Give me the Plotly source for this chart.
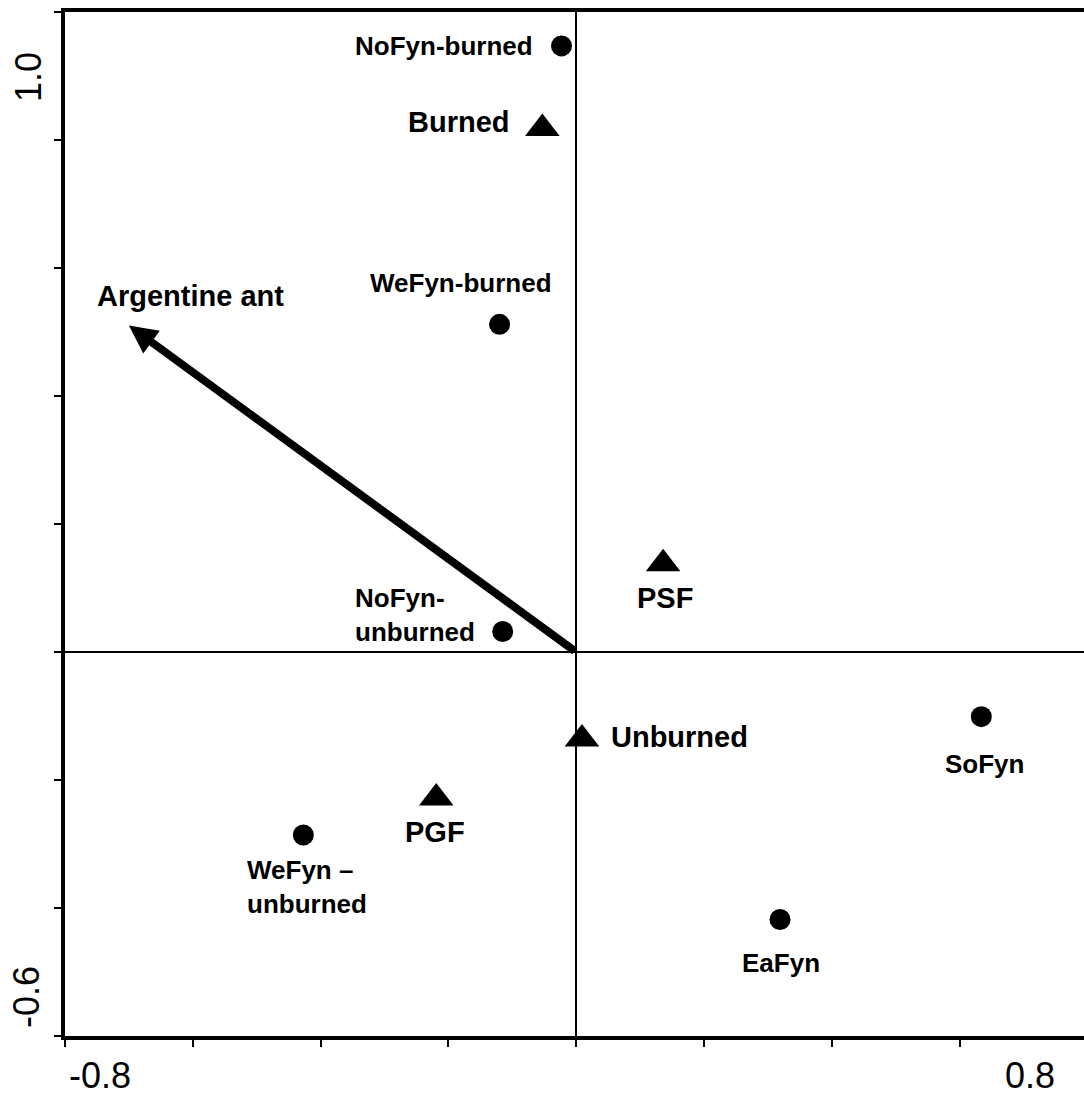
import plotly.graph_objects as go

# Site scores (circles)
site_labels = ["NoFyn-burned", "WeFyn-burned", "NoFyn-<br>unburned",
               "WeFyn –<br>unburned", "SoFyn", "EaFyn"]
site_x = [-0.023, -0.120, -0.115, -0.427, 0.634, 0.319]
site_y = [0.947, 0.512, 0.032, -0.286, -0.101, -0.418]

# Treatment centroids (triangles)
treat_labels = ["Burned", "PSF", "Unburned", "PGF"]
treat_x = [-0.053, 0.136, 0.009, -0.219]
treat_y = [0.818, 0.138, -0.136, -0.228]

# Species vector
species_label = "Argentine ant"
species_x = -0.70
species_y = 0.51

# Axis extent and tick values
x_min, x_max = -0.8, 0.7947
y_min, y_max = -0.6, 1.0
x_ticks = [-0.8, -0.6, -0.4, -0.2, 0.0, 0.2, 0.4, 0.6]
y_ticks = [-0.6, -0.4, -0.2, 0.0, 0.2, 0.4, 0.6, 0.8, 1.0]

FONT = "Liberation Sans, Arial, sans-serif"

# label placement relative to each marker: (xanchor, align, xshift, yshift)
site_label_pos = [
    ("right", "right", -27, 0),
    ("center", "center", -39, 41),
    ("left", "left", -150, 17),
    ("left", "left", -58, -52),
    ("center", "center", 3, -47),
    ("center", "center", 1, -43),
]
treat_label_pos = [
    ("right", "right", -30, 6),
    ("center", "center", 2, -34),
    ("left", "left", 27, 2),
    ("center", "center", -1, -34),
]

fig = go.Figure()

fig.add_trace(go.Scatter(
    x=site_x, y=site_y, mode="markers",
    marker=dict(symbol="circle", size=21, color="black"),
    showlegend=False, hoverinfo="skip",
))
fig.add_trace(go.Scatter(
    x=treat_x, y=treat_y, mode="markers",
    marker=dict(symbol="triangle-up", size=30, color="black"),
    showlegend=False, hoverinfo="skip",
))

annotations = []
for lab, x, y, (xa, al, dx, dy) in zip(site_labels, site_x, site_y, site_label_pos):
    annotations.append(dict(
        x=x, y=y, xref="x", yref="y", text=lab, showarrow=False,
        xanchor=xa, yanchor="middle", align=al, xshift=dx, yshift=dy,
        font=dict(family=FONT, size=26, color="black", weight="bold"),
    ))
for lab, x, y, (xa, al, dx, dy) in zip(treat_labels, treat_x, treat_y, treat_label_pos):
    annotations.append(dict(
        x=x, y=y, xref="x", yref="y", text=lab, showarrow=False,
        xanchor=xa, yanchor="middle", align=al, xshift=dx, yshift=dy,
        font=dict(family=FONT, size=29, color="black", weight="bold"),
    ))

# species vector drawn from the origin
annotations.append(dict(
    x=species_x, y=species_y, ax=0, ay=0, xref="x", yref="y",
    axref="x", ayref="y", text="", showarrow=True,
    arrowhead=2, arrowsize=0.7, arrowwidth=8, arrowcolor="black", standoff=0,
))
annotations.append(dict(
    x=species_x, y=species_y, xref="x", yref="y", text=species_label,
    showarrow=False, xanchor="left", yanchor="middle", xshift=-34, yshift=30,
    font=dict(family=FONT, size=29, color="black", weight="bold"),
))

# end tick labels
tick_font = dict(family=FONT, size=36, color="black")
annotations += [
    dict(x=0, y=0, xref="paper", yref="paper", text="-0.8", showarrow=False,
         xanchor="center", yanchor="middle", xshift=35, yshift=-39, font=tick_font),
    dict(x=1, y=0, xref="paper", yref="paper", text="0.8", showarrow=False,
         xanchor="center", yanchor="middle", xshift=-54, yshift=-39, font=tick_font),
    dict(x=0, y=1, xref="paper", yref="paper", text="1.0", showarrow=False,
         textangle=-90, xanchor="center", yanchor="middle", xshift=-37, yshift=-65,
         font=tick_font),
    dict(x=0, y=0, xref="paper", yref="paper", text="-0.6", showarrow=False,
         textangle=-90, xanchor="center", yanchor="middle", xshift=-39, yshift=39,
         font=tick_font),
]

fig.update_layout(
    width=1084, height=1098,
    margin=dict(l=65, r=0, t=12, b=62, pad=0),
    paper_bgcolor="white", plot_bgcolor="white",
    annotations=annotations,
    showlegend=False,
)
fig.update_xaxes(
    range=[x_min, x_max], tickvals=x_ticks, showticklabels=False,
    ticks="outside", ticklen=7, tickwidth=2, tickcolor="black",
    showline=True, linewidth=4, linecolor="black", mirror=True,
    showgrid=False, zeroline=True, zerolinewidth=2, zerolinecolor="black",
)
fig.update_yaxes(
    range=[y_min, y_max], tickvals=y_ticks, showticklabels=False,
    ticks="outside", ticklen=7, tickwidth=2, tickcolor="black",
    showline=True, linewidth=4, linecolor="black", mirror=False,
    showgrid=False, zeroline=True, zerolinewidth=2, zerolinecolor="black",
)

fig.write_html("out.html")
